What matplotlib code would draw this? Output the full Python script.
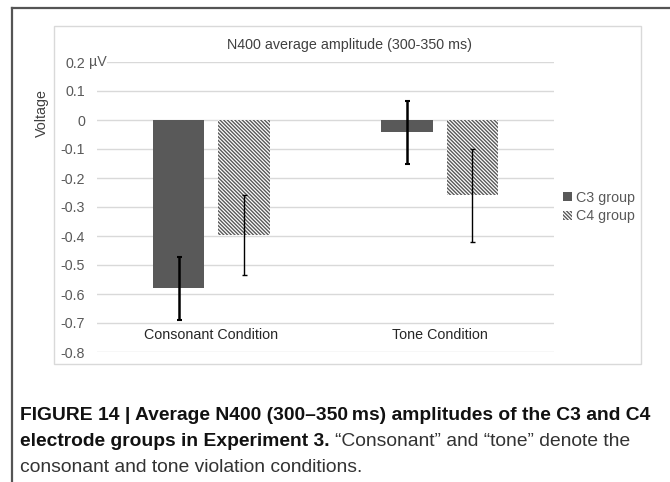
import matplotlib
matplotlib.use("Agg")
import matplotlib.pyplot as plt
from matplotlib.lines import Line2D
from matplotlib.patches import Rectangle

# ---- data ----
categories = ["Consonant Condition", "Tone Condition"]
series_names = ["C3 group", "C4 group"]
c3_means = [-0.58, -0.043]
c3_errs = [0.108, 0.109]
c4_means = [-0.397, -0.26]
c4_errs = [0.137, 0.16]
yticks = [0.2, 0.1, 0, -0.1, -0.2, -0.3, -0.4, -0.5, -0.6, -0.7, -0.8]
ytick_labels = ["0.2", "0.1", "0", "-0.1", "-0.2", "-0.3", "-0.4", "-0.5", "-0.6", "-0.7", "-0.8"]
title = "N400 average amplitude (300-350 ms)"
ylabel = "Voltage"
unit = "µV"

W, H = 670, 482
DPI = 100
plt.rcParams['font.family'] = ['Liberation Sans', 'DejaVu Sans']
plt.rcParams['hatch.linewidth'] = 1.0
GRAY = '#595959'
FS = 10.3

fig = plt.figure(figsize=(W / DPI, H / DPI), dpi=DPI)

def fx(px):
    return px / W

def fy(py):
    return 1 - py / H

# outer frame (left and top lines)
fig.add_artist(Line2D([fx(12), fx(12)], [fy(8), 0], color='#555555', lw=1.6))
fig.add_artist(Line2D([fx(12), 1], [fy(8), fy(8)], color='#555555', lw=1.6))
# inner chart box
fig.add_artist(Rectangle((fx(54), fy(364)), fx(641) - fx(54), fy(26) - fy(364),
                         transform=fig.transFigure, fill=False, edgecolor='#d9d9d9', lw=1.0))

AX_L, AX_R = 97, 554
ax = fig.add_axes([fx(AX_L), fy(352), fx(AX_R) - fx(AX_L), fy(62) - fy(352)])
ax.set_ylim(-0.8, 0.2)
ax.set_xlim(-0.5, 1.5)

x = list(range(len(categories)))
off = 0.143
bw = 0.224
xs3 = [v - off for v in x]
xs4 = [v + off for v in x]
b3 = ax.bar(xs3, c3_means, width=bw, color=GRAY, linewidth=0, zorder=2, label=series_names[0])
b4 = ax.bar(xs4, c4_means, width=bw, facecolor='white', edgecolor=GRAY, linewidth=0,
            hatch='\\' * 9, zorder=2, label=series_names[1])
ax.errorbar(xs3, c3_means, yerr=c3_errs, fmt='none', ecolor='black', elinewidth=1.8,
            capsize=1.8, capthick=1.5, zorder=3)
ax.errorbar(xs4, c4_means, yerr=c4_errs, fmt='none', ecolor='black', elinewidth=1.0,
            capsize=1.8, capthick=1.0, zorder=3)

for s in ax.spines.values():
    s.set_visible(False)
ax.set_xticks([])
ax.set_yticks(yticks)
ax.set_yticklabels(ytick_labels)
ax.tick_params(axis='y', length=0, pad=8.5, labelsize=FS, labelcolor=GRAY)
ax.yaxis.grid(True, color='#d9d9d9', lw=1.0, zorder=0)
ax.set_axisbelow(True)

# unit next to top tick label
ax.text((89 - AX_L) / (AX_R - AX_L), 0.2, unit, transform=ax.get_yaxis_transform(),
        ha='left', va='center', fontsize=FS, color=GRAY, clip_on=False, zorder=5,
        bbox=dict(facecolor='white', edgecolor='none', pad=0.5))

# category labels inside the plot area
for xi, lab in zip(x, categories):
    ax.text(xi, -0.741, lab, ha='center', va='center', fontsize=FS, color='#262626')

fig.text(fx(350), fy(45), title, ha='center', va='center', fontsize=FS, color='#404040')
fig.text(fx(42), fy(113), ylabel, ha='center', va='center', rotation=90, fontsize=FS, color='#404040')

leg = ax.legend(handles=[b3, b4], loc='center left', bbox_to_anchor=(fx(563), fy(207)),
                bbox_transform=fig.transFigure, frameon=False, fontsize=FS,
                handlelength=0.6, handleheight=0.6, handletextpad=0.3, labelspacing=0.3,
                borderpad=0, borderaxespad=0)
for t in leg.get_texts():
    t.set_color(GRAY)

# caption
cap_font = ['Liberation Sans Narrow', 'Liberation Sans', 'DejaVu Sans']
CFS = 13.9
l1 = fig.text(fx(20), fy(416), "FIGURE 14 | Average N400 (300\u2013350\u2009ms) amplitudes of the C3 and C4",
              ha='left', va='center', fontsize=CFS, fontweight='bold', family=cap_font, color='#111111')
l2b = fig.text(fx(20), fy(442), "electrode groups in Experiment 3.", ha='left', va='center',
               fontsize=CFS, fontweight='bold', family=cap_font, color='#111111')
fig.canvas.draw()
r = fig.canvas.get_renderer()
bb = l2b.get_window_extent(r)
fig.text((bb.x1 + 5) / W, fy(442), "\u201cConsonant\u201d and \u201ctone\u201d denote the",
         ha='left', va='center', fontsize=CFS, family=cap_font, color='#333333')
fig.text(fx(20), fy(467), "consonant and tone violation conditions.", ha='left', va='center',
         fontsize=CFS, family=cap_font, color='#333333')

fig.savefig("out.png", dpi=DPI)
